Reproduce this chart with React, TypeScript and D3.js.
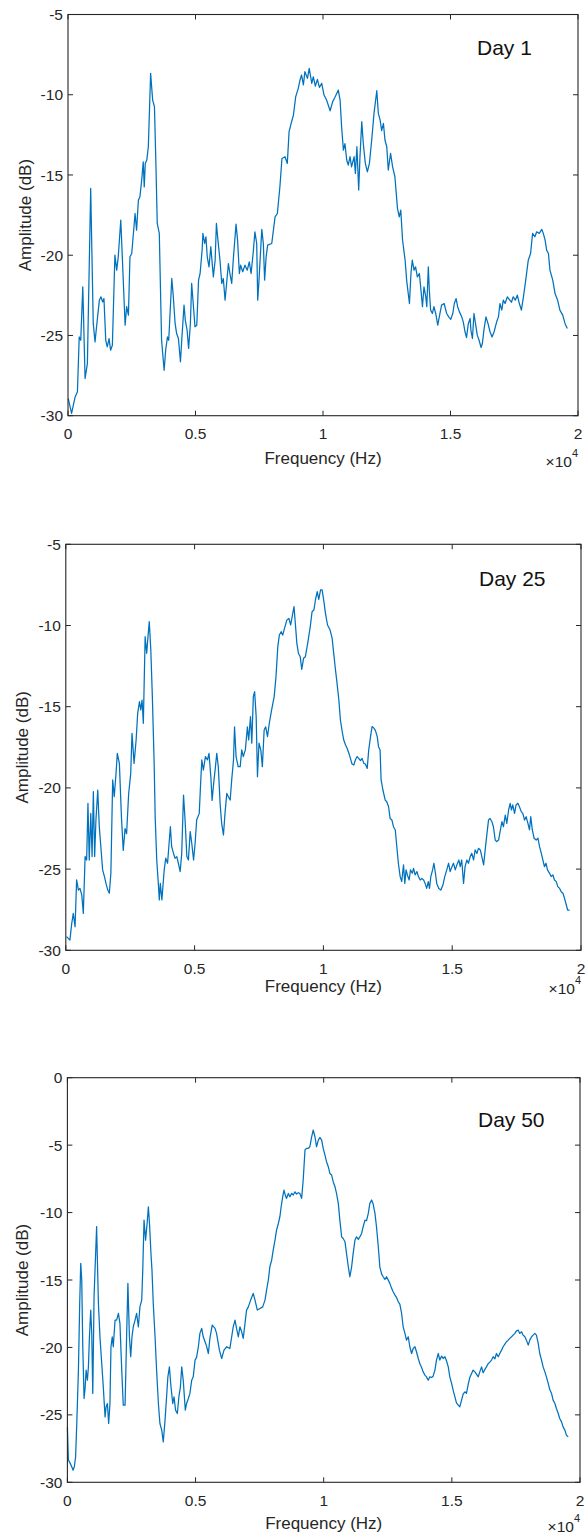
import React from "react";
import * as d3 from "d3";

// ---- Data (frequency in units of 1e4 Hz, amplitude in dB) ----
const xTicks = [0, 0.5, 1, 1.5, 2];
const xTickLabels = ["0", "0.5", "1", "1.5", "2"];
const yTicksA = [-30, -25, -20, -15, -10, -5];
const yTicksB = [-30, -25, -20, -15, -10, -5, 0];
const dayLabels = ["Day 1", "Day 25", "Day 50"];

const day1: [number, number][] = [
  [0.001,-28.93],[0.014,-29.86],[0.028,-28.83],[0.037,-28.51],[0.044,-25.09],[0.050,-25.30],[0.058,-21.97],[0.067,-27.68],[0.076,-26.75],[0.089,-15.84],[0.099,-24.25],[0.106,-25.40],[0.112,-24.46],[0.123,-22.80],[0.129,-22.59],[0.136,-22.91],[0.141,-22.70],[0.148,-25.30],[0.154,-25.71],[0.161,-25.19],[0.167,-25.92],[0.174,-25.61],[0.184,-19.99],[0.191,-20.93],[0.197,-20.10],[0.207,-17.81],[0.224,-24.36],[0.230,-23.21],[0.237,-23.73],[0.243,-20.10],[0.250,-19.89],[0.263,-17.40],[0.269,-18.44],[0.276,-16.57],[0.282,-16.36],[0.289,-15.32],[0.295,-14.18],[0.299,-15.74],[0.303,-14.28],[0.309,-14.07],[0.315,-13.24],[0.324,-8.67],[0.332,-10.33],[0.339,-10.75],[0.345,-14.49],[0.350,-18.02],[0.358,-18.64],[0.367,-25.30],[0.377,-27.17],[0.383,-25.92],[0.390,-25.09],[0.395,-25.30],[0.407,-21.45],[0.413,-22.59],[0.420,-24.25],[0.426,-24.88],[0.433,-25.19],[0.441,-26.64],[0.446,-25.30],[0.455,-23.11],[0.460,-24.05],[0.467,-24.67],[0.473,-25.81],[0.480,-24.25],[0.485,-21.76],[0.492,-23.21],[0.498,-24.46],[0.505,-24.36],[0.512,-21.55],[0.518,-21.14],[0.526,-19.68],[0.529,-18.64],[0.536,-19.27],[0.541,-18.85],[0.546,-20.10],[0.553,-20.72],[0.560,-19.47],[0.570,-21.35],[0.577,-20.31],[0.582,-18.02],[0.588,-19.06],[0.596,-20.31],[0.603,-21.76],[0.609,-21.45],[0.616,-22.80],[0.622,-21.76],[0.629,-20.52],[0.635,-21.14],[0.642,-21.76],[0.648,-20.31],[0.659,-18.06],[0.665,-19.06],[0.672,-21.14],[0.677,-20.62],[0.685,-21.03],[0.694,-20.62],[0.703,-20.93],[0.711,-20.41],[0.718,-21.14],[0.726,-19.89],[0.733,-18.54],[0.740,-19.27],[0.744,-22.80],[0.749,-21.55],[0.754,-20.10],[0.760,-18.39],[0.766,-19.27],[0.771,-21.55],[0.777,-20.10],[0.783,-19.37],[0.799,-19.27],[0.812,-17.61],[0.821,-17.40],[0.831,-15.73],[0.839,-13.97],[0.851,-13.86],[0.860,-14.28],[0.867,-12.30],[0.875,-11.79],[0.884,-11.27],[0.893,-10.12],[0.903,-9.60],[0.910,-9.08],[0.916,-8.77],[0.923,-9.39],[0.929,-8.56],[0.939,-8.98],[0.946,-8.36],[0.956,-9.29],[0.962,-8.88],[0.970,-9.46],[0.978,-9.04],[0.986,-9.54],[0.995,-9.29],[1.004,-10.02],[1.014,-10.33],[1.028,-11.00],[1.038,-10.43],[1.047,-10.16],[1.060,-9.71],[1.067,-10.33],[1.073,-12.00],[1.080,-13.45],[1.086,-13.04],[1.093,-14.07],[1.099,-14.38],[1.106,-13.86],[1.112,-14.49],[1.122,-13.86],[1.127,-14.90],[1.133,-13.24],[1.140,-15.94],[1.145,-13.86],[1.152,-11.68],[1.158,-13.03],[1.166,-14.28],[1.174,-14.80],[1.182,-14.28],[1.191,-12.82],[1.200,-11.16],[1.211,-9.75],[1.217,-11.16],[1.224,-11.58],[1.230,-12.24],[1.237,-11.79],[1.243,-12.82],[1.250,-13.24],[1.256,-14.69],[1.265,-13.65],[1.273,-14.49],[1.282,-15.11],[1.292,-17.08],[1.299,-17.61],[1.305,-17.19],[1.312,-19.06],[1.322,-20.31],[1.328,-21.55],[1.339,-23.01],[1.345,-21.14],[1.350,-20.31],[1.357,-20.93],[1.363,-20.72],[1.370,-21.35],[1.378,-21.14],[1.383,-21.97],[1.390,-23.21],[1.396,-21.97],[1.403,-22.59],[1.407,-23.21],[1.413,-20.72],[1.417,-22.18],[1.422,-23.42],[1.429,-23.63],[1.435,-23.21],[1.442,-23.63],[1.450,-24.36],[1.456,-23.84],[1.465,-23.11],[1.475,-23.01],[1.485,-23.63],[1.493,-23.84],[1.501,-24.00],[1.509,-23.63],[1.515,-23.01],[1.522,-22.70],[1.528,-23.21],[1.535,-23.53],[1.544,-23.84],[1.550,-24.15],[1.557,-24.77],[1.563,-25.13],[1.570,-24.25],[1.577,-23.94],[1.580,-24.67],[1.586,-25.19],[1.592,-23.63],[1.599,-24.36],[1.605,-24.98],[1.612,-25.30],[1.620,-25.75],[1.625,-25.50],[1.631,-24.67],[1.639,-23.84],[1.647,-24.25],[1.655,-24.77],[1.663,-25.09],[1.671,-24.77],[1.681,-24.15],[1.688,-23.84],[1.694,-23.01],[1.701,-23.42],[1.707,-22.80],[1.714,-23.01],[1.723,-22.59],[1.731,-22.76],[1.739,-22.93],[1.746,-22.59],[1.754,-22.80],[1.762,-22.49],[1.770,-23.01],[1.778,-23.42],[1.786,-22.59],[1.795,-21.55],[1.805,-20.31],[1.814,-19.89],[1.822,-18.64],[1.831,-18.85],[1.838,-18.54],[1.848,-18.64],[1.858,-18.39],[1.864,-18.64],[1.871,-19.06],[1.877,-19.68],[1.884,-19.89],[1.890,-20.93],[1.901,-21.55],[1.910,-22.39],[1.920,-22.80],[1.929,-23.42],[1.940,-23.73],[1.949,-24.25],[1.958,-24.57]
];

const day25: [number, number][] = [
  [0.003,-29.16],[0.016,-29.37],[0.023,-28.35],[0.029,-27.73],[0.036,-28.55],[0.042,-25.67],[0.049,-26.29],[0.055,-26.19],[0.062,-26.59],[0.068,-27.73],[0.075,-24.23],[0.081,-24.44],[0.086,-20.95],[0.091,-24.44],[0.097,-21.57],[0.102,-24.23],[0.107,-20.23],[0.112,-24.23],[0.117,-21.98],[0.124,-20.13],[0.130,-22.39],[0.137,-23.82],[0.143,-25.05],[0.150,-25.46],[0.156,-25.88],[0.163,-26.29],[0.169,-26.49],[0.175,-25.26],[0.182,-19.51],[0.188,-20.54],[0.195,-19.10],[0.200,-17.87],[0.208,-18.49],[0.216,-21.80],[0.223,-23.85],[0.230,-22.51],[0.236,-22.82],[0.244,-20.36],[0.252,-19.12],[0.257,-16.64],[0.265,-18.49],[0.273,-17.05],[0.279,-15.41],[0.286,-14.69],[0.291,-15.20],[0.296,-14.59],[0.301,-16.02],[0.308,-10.69],[0.314,-11.71],[0.318,-10.89],[0.324,-9.76],[0.330,-11.51],[0.336,-14.38],[0.343,-18.49],[0.347,-21.80],[0.353,-24.44],[0.360,-26.08],[0.363,-26.90],[0.367,-25.88],[0.373,-26.90],[0.376,-26.29],[0.382,-25.05],[0.388,-24.33],[0.395,-24.64],[0.401,-23.41],[0.406,-22.39],[0.411,-23.62],[0.418,-24.03],[0.424,-24.33],[0.431,-24.23],[0.437,-24.64],[0.444,-25.15],[0.450,-24.03],[0.457,-20.44],[0.463,-21.98],[0.470,-24.23],[0.476,-24.44],[0.483,-22.69],[0.489,-23.41],[0.496,-24.44],[0.502,-23.41],[0.508,-21.98],[0.518,-21.57],[0.524,-19.51],[0.528,-18.28],[0.534,-18.90],[0.542,-18.07],[0.550,-18.28],[0.556,-17.87],[0.563,-19.31],[0.568,-20.77],[0.574,-19.72],[0.581,-18.69],[0.586,-17.87],[0.592,-18.69],[0.599,-20.95],[0.605,-22.18],[0.612,-22.90],[0.618,-21.57],[0.625,-20.34],[0.631,-20.54],[0.638,-20.75],[0.644,-19.51],[0.651,-18.28],[0.655,-16.24],[0.661,-18.07],[0.669,-18.69],[0.677,-18.69],[0.683,-17.66],[0.689,-18.07],[0.697,-17.66],[0.705,-16.24],[0.710,-17.05],[0.717,-15.61],[0.722,-17.25],[0.728,-14.38],[0.733,-14.07],[0.739,-15.61],[0.744,-19.31],[0.750,-17.25],[0.757,-17.66],[0.763,-18.69],[0.770,-16.43],[0.776,-16.24],[0.783,-16.84],[0.790,-16.02],[0.799,-15.20],[0.809,-14.38],[0.816,-13.15],[0.823,-11.30],[0.829,-10.59],[0.836,-10.38],[0.842,-10.59],[0.849,-10.18],[0.858,-9.67],[0.866,-9.56],[0.873,-9.97],[0.881,-9.25],[0.886,-8.84],[0.890,-9.66],[0.897,-11.10],[0.903,-11.71],[0.910,-11.92],[0.916,-12.70],[0.923,-12.02],[0.930,-11.92],[0.939,-11.10],[0.949,-10.07],[0.956,-9.15],[0.963,-9.05],[0.969,-8.43],[0.976,-7.92],[0.982,-8.39],[0.989,-7.81],[0.995,-7.81],[1.002,-8.53],[1.008,-9.25],[1.016,-9.97],[1.026,-10.28],[1.034,-10.79],[1.040,-11.72],[1.047,-12.74],[1.053,-13.56],[1.060,-14.59],[1.066,-15.82],[1.073,-16.54],[1.079,-17.05],[1.086,-17.36],[1.092,-17.56],[1.099,-17.87],[1.105,-18.18],[1.111,-18.53],[1.118,-18.59],[1.124,-18.28],[1.131,-18.07],[1.137,-18.18],[1.144,-18.32],[1.150,-18.18],[1.157,-18.49],[1.163,-18.53],[1.170,-18.80],[1.176,-17.66],[1.183,-16.84],[1.189,-16.22],[1.196,-16.32],[1.202,-16.47],[1.209,-16.84],[1.214,-17.46],[1.220,-17.66],[1.224,-19.51],[1.231,-20.13],[1.240,-20.75],[1.246,-20.85],[1.253,-21.16],[1.259,-21.88],[1.266,-21.98],[1.272,-22.39],[1.279,-22.59],[1.285,-23.62],[1.291,-24.64],[1.298,-25.46],[1.304,-25.77],[1.311,-24.74],[1.316,-25.88],[1.321,-25.05],[1.326,-25.36],[1.333,-25.67],[1.338,-25.05],[1.345,-25.26],[1.350,-24.95],[1.356,-25.36],[1.363,-25.15],[1.369,-25.46],[1.376,-25.67],[1.382,-25.57],[1.389,-25.67],[1.395,-25.88],[1.401,-26.19],[1.407,-25.77],[1.412,-26.19],[1.417,-25.46],[1.424,-25.05],[1.429,-24.64],[1.435,-25.26],[1.440,-25.88],[1.448,-26.19],[1.456,-26.29],[1.464,-25.98],[1.471,-25.46],[1.479,-25.05],[1.486,-24.64],[1.492,-25.15],[1.499,-24.85],[1.505,-24.64],[1.512,-25.05],[1.518,-24.74],[1.526,-24.44],[1.531,-24.85],[1.537,-24.44],[1.544,-25.88],[1.550,-24.85],[1.557,-24.44],[1.563,-24.64],[1.570,-24.23],[1.576,-24.03],[1.583,-24.44],[1.589,-23.82],[1.596,-24.03],[1.602,-23.72],[1.609,-23.82],[1.615,-24.23],[1.622,-24.74],[1.628,-23.82],[1.635,-22.80],[1.641,-21.98],[1.647,-21.88],[1.654,-22.08],[1.660,-22.39],[1.667,-23.21],[1.673,-23.31],[1.680,-23.21],[1.686,-22.69],[1.693,-22.08],[1.699,-22.39],[1.706,-21.67],[1.712,-22.18],[1.719,-21.36],[1.725,-20.95],[1.730,-21.36],[1.735,-21.05],[1.742,-21.57],[1.748,-21.05],[1.755,-20.95],[1.761,-21.16],[1.768,-21.46],[1.774,-21.57],[1.781,-21.98],[1.787,-21.77],[1.794,-22.18],[1.800,-22.59],[1.805,-21.77],[1.811,-22.59],[1.818,-23.10],[1.826,-23.21],[1.833,-23.10],[1.839,-23.62],[1.846,-24.03],[1.852,-24.44],[1.858,-24.85],[1.864,-24.64],[1.870,-25.05],[1.878,-25.26],[1.884,-25.46],[1.891,-25.36],[1.897,-25.67],[1.904,-25.77],[1.910,-26.08],[1.917,-26.19],[1.923,-26.39],[1.930,-26.49],[1.936,-26.80],[1.943,-27.21],[1.948,-27.52],[1.956,-27.52]
];

const day50: [number, number][] = [
  [0.000,-25.89],[0.004,-28.36],[0.010,-28.56],[0.017,-28.85],[0.022,-29.10],[0.027,-28.85],[0.032,-28.12],[0.037,-25.39],[0.043,-21.68],[0.048,-16.74],[0.052,-13.77],[0.056,-15.01],[0.060,-19.95],[0.065,-23.79],[0.069,-23.04],[0.073,-21.68],[0.078,-22.43],[0.082,-21.44],[0.086,-19.21],[0.091,-17.23],[0.095,-18.96],[0.099,-23.41],[0.104,-16.24],[0.114,-11.05],[0.121,-16.74],[0.127,-19.21],[0.134,-21.19],[0.140,-22.92],[0.147,-25.15],[0.151,-24.40],[0.156,-24.16],[0.161,-25.64],[0.166,-24.16],[0.170,-19.95],[0.175,-19.21],[0.179,-19.95],[0.186,-17.97],[0.192,-17.97],[0.199,-17.48],[0.205,-18.22],[0.212,-21.68],[0.218,-24.28],[0.225,-24.28],[0.231,-19.21],[0.236,-15.25],[0.242,-19.21],[0.247,-20.69],[0.252,-19.21],[0.257,-18.47],[0.264,-17.97],[0.270,-17.48],[0.277,-18.47],[0.283,-16.99],[0.290,-16.49],[0.294,-14.27],[0.299,-10.56],[0.305,-12.04],[0.311,-10.81],[0.316,-9.57],[0.321,-11.05],[0.326,-13.03],[0.330,-14.27],[0.335,-16.74],[0.342,-19.21],[0.348,-21.68],[0.355,-24.16],[0.361,-25.64],[0.368,-26.13],[0.374,-27.00],[0.381,-25.39],[0.387,-23.66],[0.392,-22.18],[0.398,-21.44],[0.403,-22.67],[0.411,-24.16],[0.416,-23.66],[0.422,-24.65],[0.429,-24.90],[0.435,-23.66],[0.441,-22.92],[0.446,-21.44],[0.452,-22.43],[0.460,-24.65],[0.465,-24.16],[0.472,-23.79],[0.478,-23.41],[0.485,-22.43],[0.491,-22.18],[0.498,-20.94],[0.504,-20.74],[0.511,-19.95],[0.517,-18.96],[0.524,-18.59],[0.530,-19.21],[0.537,-19.58],[0.543,-19.90],[0.550,-20.45],[0.556,-19.33],[0.565,-18.35],[0.576,-18.59],[0.582,-18.96],[0.593,-20.20],[0.602,-20.82],[0.611,-20.20],[0.621,-19.95],[0.634,-20.08],[0.641,-19.21],[0.647,-18.47],[0.654,-17.97],[0.660,-18.59],[0.667,-19.21],[0.673,-18.47],[0.680,-18.84],[0.686,-19.33],[0.693,-18.22],[0.699,-17.23],[0.706,-16.99],[0.715,-16.49],[0.725,-15.99],[0.732,-16.49],[0.741,-17.23],[0.751,-17.11],[0.762,-16.99],[0.771,-16.49],[0.777,-15.75],[0.784,-15.01],[0.790,-14.02],[0.797,-13.52],[0.803,-12.78],[0.810,-12.04],[0.816,-11.30],[0.823,-10.81],[0.829,-10.31],[0.834,-9.57],[0.840,-8.83],[0.845,-8.33],[0.850,-8.70],[0.855,-8.95],[0.862,-8.58],[0.868,-8.83],[0.875,-8.58],[0.881,-8.70],[0.888,-8.46],[0.894,-8.63],[0.901,-8.53],[0.907,-8.58],[0.914,-8.95],[0.920,-7.59],[0.927,-5.36],[0.933,-5.24],[0.940,-5.24],[0.946,-5.12],[0.953,-4.38],[0.959,-3.88],[0.966,-4.38],[0.972,-5.12],[0.979,-4.63],[0.985,-4.43],[0.992,-4.63],[0.998,-5.24],[1.005,-5.74],[1.011,-6.23],[1.018,-6.60],[1.024,-7.10],[1.031,-7.22],[1.037,-7.71],[1.044,-8.08],[1.050,-8.58],[1.057,-9.32],[1.063,-10.56],[1.070,-11.80],[1.076,-11.92],[1.083,-12.16],[1.089,-13.03],[1.096,-14.02],[1.102,-14.76],[1.109,-14.02],[1.115,-13.03],[1.122,-12.04],[1.128,-11.80],[1.135,-11.99],[1.141,-11.80],[1.148,-11.55],[1.154,-11.05],[1.161,-10.56],[1.167,-10.61],[1.174,-10.06],[1.180,-9.32],[1.187,-9.07],[1.193,-9.37],[1.200,-10.06],[1.206,-11.05],[1.213,-12.53],[1.219,-14.02],[1.226,-14.56],[1.232,-14.76],[1.239,-14.96],[1.245,-14.76],[1.252,-15.01],[1.258,-15.25],[1.265,-15.62],[1.271,-15.87],[1.278,-16.12],[1.284,-16.29],[1.291,-16.62],[1.297,-16.79],[1.304,-17.48],[1.310,-18.47],[1.317,-18.96],[1.323,-19.46],[1.330,-19.21],[1.336,-19.95],[1.343,-20.45],[1.349,-20.08],[1.356,-19.95],[1.362,-20.32],[1.369,-20.82],[1.375,-21.19],[1.382,-21.49],[1.388,-21.81],[1.395,-22.05],[1.401,-22.18],[1.408,-22.43],[1.414,-22.18],[1.421,-22.23],[1.427,-22.13],[1.434,-21.68],[1.440,-20.94],[1.447,-20.45],[1.453,-20.94],[1.460,-20.64],[1.466,-20.82],[1.473,-20.69],[1.479,-20.99],[1.486,-21.44],[1.492,-22.18],[1.499,-22.67],[1.505,-23.17],[1.512,-23.66],[1.518,-24.11],[1.525,-24.28],[1.531,-24.40],[1.538,-23.91],[1.544,-23.46],[1.551,-23.29],[1.557,-23.41],[1.564,-22.72],[1.570,-22.23],[1.577,-21.93],[1.583,-21.68],[1.590,-21.81],[1.596,-21.98],[1.603,-22.18],[1.609,-21.81],[1.616,-21.44],[1.622,-21.88],[1.629,-21.63],[1.635,-21.44],[1.642,-21.19],[1.648,-21.09],[1.655,-20.94],[1.661,-20.69],[1.668,-20.84],[1.674,-20.45],[1.681,-20.69],[1.687,-20.45],[1.694,-20.20],[1.700,-19.95],[1.707,-19.75],[1.713,-19.58],[1.720,-19.46],[1.726,-19.33],[1.733,-19.21],[1.739,-19.09],[1.746,-18.96],[1.752,-18.77],[1.759,-18.72],[1.765,-18.96],[1.772,-18.84],[1.778,-19.09],[1.785,-19.21],[1.791,-19.46],[1.798,-19.83],[1.804,-19.46],[1.811,-19.21],[1.817,-19.09],[1.824,-18.96],[1.830,-19.09],[1.837,-19.70],[1.843,-20.45],[1.850,-20.94],[1.856,-21.44],[1.863,-21.81],[1.869,-22.18],[1.876,-22.67],[1.882,-23.12],[1.889,-23.41],[1.895,-23.91],[1.902,-24.16],[1.908,-24.53],[1.915,-24.90],[1.921,-25.27],[1.928,-25.52],[1.934,-25.89],[1.941,-26.13],[1.947,-26.50],[1.954,-26.63]
];

// ---- Layout (pixel geometry of each panel) ----
const layouts = [
  { left: 68, right: 578, top: 14.5, bottom: 415.7, yTicks: yTicksA, dayX: 477, dayY: 55, yLabX: 25.5, xLabDy: 43, expDy: 45 },
  { left: 65.8, right: 581, top: 544.3, bottom: 950.3, yTicks: yTicksA, dayX: 479, dayY: 586, yLabX: 22.5, xLabDy: 36, expDy: 37.5 },
  { left: 67.4, right: 580, top: 1077.7, bottom: 1482.3, yTicks: yTicksB, dayX: 478, dayY: 1126.7, yLabX: 22.5, xLabDy: 41.5, expDy: 43.5 },
];
const series = [day1, day25, day50];

const FONT = "'Liberation Sans', Arial, Helvetica, sans-serif";
const AX = "#262626";
const LINE = "#0072BD";

function Panel({ idx }: { idx: number }) {
  const L = layouts[idx];
  const data = series[idx];
  const yT = L.yTicks;
  const x = d3.scaleLinear().domain([0, 2]).range([L.left, L.right]);
  const y = d3.scaleLinear().domain([yT[0], yT[yT.length - 1]]).range([L.bottom, L.top]);
  const line = d3.line<[number, number]>().x((d) => x(d[0])).y((d) => y(d[1]));
  const tl = 5;
  return (
    <g>
      <path d={line(data) || ""} fill="none" stroke={LINE} strokeWidth={1.25} strokeLinejoin="round" />
      <rect x={L.left} y={L.top} width={L.right - L.left} height={L.bottom - L.top} fill="none" stroke={AX} strokeWidth={1.1} />
      {xTicks.map((t, i) => (
        <g key={"xt" + i}>
          <line x1={x(t)} x2={x(t)} y1={L.bottom} y2={L.bottom - tl} stroke={AX} strokeWidth={1} />
          <line x1={x(t)} x2={x(t)} y1={L.top} y2={L.top + tl} stroke={AX} strokeWidth={1} />
          <text x={x(t)} y={L.bottom + 23.3} textAnchor="middle" fontSize={15.5} fill={AX} fontFamily={FONT}>
            {xTickLabels[i]}
          </text>
        </g>
      ))}
      {yT.map((t, i) => (
        <g key={"yt" + i}>
          <line x1={L.left} x2={L.left + tl} y1={y(t)} y2={y(t)} stroke={AX} strokeWidth={1} />
          <line x1={L.right} x2={L.right - tl} y1={y(t)} y2={y(t)} stroke={AX} strokeWidth={1} />
          <text x={L.left - 5} y={y(t)} dy="0.36em" textAnchor="end" fontSize={15.5} fill={AX} fontFamily={FONT}>
            {String(t).replace("-", "-")}
          </text>
        </g>
      ))}
      <text x={(L.left + L.right) / 2} y={L.bottom + L.xLabDy} dominantBaseline="central" textAnchor="middle" fontSize={17} fill={AX} fontFamily={FONT}>
        Frequency (Hz)
      </text>
      <text x={L.right} y={L.bottom + L.expDy} dominantBaseline="central" textAnchor="end" fontSize={15.5} fill={AX} fontFamily={FONT}>
        <tspan>×10</tspan>
        <tspan dy={-8} fontSize={11}>4</tspan>
      </text>
      <text
        transform={`translate(${L.yLabX},${(L.top + L.bottom) / 2}) rotate(-90)`}
        textAnchor="middle"
        dominantBaseline="central"
        fontSize={17}
        fill={AX}
        fontFamily={FONT}
      >
        Amplitude (dB)
      </text>
      <text x={L.dayX} y={L.dayY} fontSize={21} fill="#111" fontFamily={FONT}>
        {dayLabels[idx]}
      </text>
    </g>
  );
}

export default function App() {
  return (
    <svg
      width={588}
      height={1533}
      viewBox="0 0 588 1533"
      style={{ position: "absolute", left: 0, top: 0, background: "#fff" }}
    >
      <rect x={0} y={0} width={588} height={1533} fill="#fff" />
      {[0, 1, 2].map((i) => (
        <Panel key={i} idx={i} />
      ))}
    </svg>
  );
}
